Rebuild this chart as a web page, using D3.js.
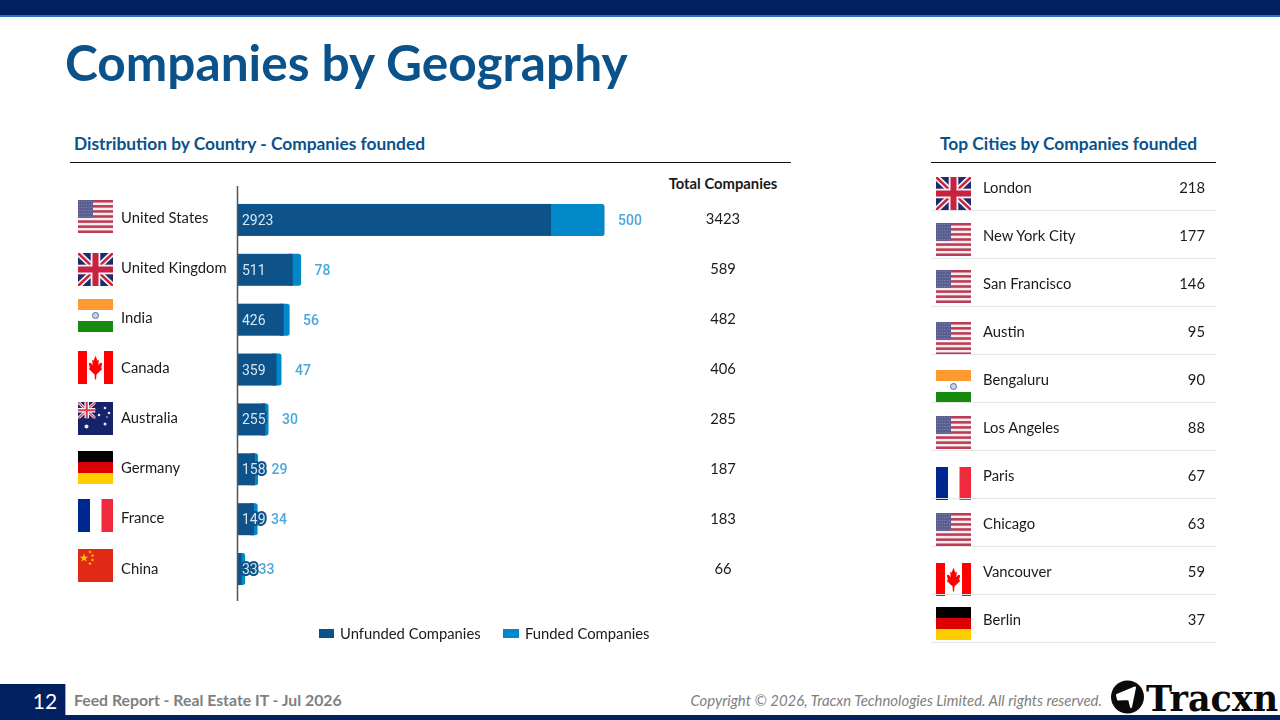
<!DOCTYPE html>
<html><head><meta charset="utf-8">
<script src="https://cdn.jsdelivr.net/npm/d3@7"></script>
<style>html,body{margin:0;padding:0;background:#fff;overflow:hidden}svg{display:block}</style>
</head><body><svg id="c" width="1280" height="720"></svg>
<script>
const countries=["United States","United Kingdom","India","Canada","Australia","Germany","France","China"];
const unfunded=[2923,511,426,359,255,158,149,33];
const funded=[500,78,56,47,30,29,34,33];
const totals=[3423,589,482,406,285,187,183,66];
const countryFlags=["us","uk","in","ca","au","de","fr","cn"];
const countryFlagY=[200,253,299,351,402,451,499,549];
const cities=["London","New York City","San Francisco","Austin","Bengaluru","Los Angeles","Paris","Chicago","Vancouver","Berlin"];
const cityCounts=[218,177,146,95,90,88,67,63,59,37];
const cityFlags=["uk","us","us","us","in","us","fr","us","ca","de"];
const cityFlagY=[177,223,270,322,370,416,467,513,563,607];
const seriesNames=["Unfunded Companies","Funded Companies"];

const NAVY="#002060",BLUE="#0a5289",LIGHT="#0288c9",FONT="Lato,sans-serif";
const svg=d3.select("#c");
const txt=(x,y,s,o={})=>svg.append("text").attr("x",x).attr("y",y).attr("dominant-baseline","central")
  .attr("font-family",o.f||FONT).attr("font-size",o.s||14.8).attr("font-weight",o.w||400).attr("font-style",o.i||"normal")
  .attr("fill",o.c||"#1a1a1a").attr("text-anchor",o.a||"start").text(s);
const rect=(x,y,w,h,c)=>svg.append("rect").attr("x",x).attr("y",y).attr("width",w).attr("height",h).attr("fill",c);
const line=(x1,x2,y,c)=>svg.append("line").attr("x1",x1).attr("x2",x2).attr("y1",y).attr("y2",y).attr("stroke",c).attr("stroke-width",1);

// page frame
rect(0,0,1280,15,NAVY);rect(0,15,1280,2,"#2f6fc4");
rect(0,715,1280,5,NAVY);rect(0,684,65,36,NAVY);rect(65,684,1,31,"#8fa8d0");
txt(45,700.5,"12",{c:"#fff",s:21,a:"middle"});
txt(74,699.5,"Feed Report - Real Estate IT - Jul 2026",{c:"#7f7f7f",s:15.8,w:700});
txt(1102,700,"Copyright © 2026, Tracxn Technologies Limited. All rights reserved.",{c:"#7f7f7f",s:14.9,i:"italic",a:"end"});
txt(65,62,"Companies by Geography",{c:BLUE,s:49.6,w:700});

// logo
const logo=svg.append("g");
logo.append("circle").attr("cx",1127.5).attr("cy",697).attr("r",16.5).attr("fill","#0a0a0a");
logo.append("path").attr("d","M1117 695 L1135 687.5 L1131 707 L1129 699 L1118 699.5 Z").attr("fill","#fff")
  .attr("stroke","#fff").attr("stroke-width",2).attr("stroke-linejoin","round");
txt(1146,698,"Tracxn",{f:"'DejaVu Serif',serif",s:35,w:700,c:"#0a0a0a"});

// section heads
txt(74,143.5,"Distribution by Country - Companies founded",{c:BLUE,s:17.35,w:700});
line(70,791,162.5,"#111");
txt(940,143.5,"Top Cities by Companies founded",{c:BLUE,s:17.35,w:700});
line(931,1216,162.5,"#111");
txt(723,182.5,"Total Companies",{s:14.8,w:700,a:"middle"});

const soft=svg.append("defs").append("filter").attr("id","soft").attr("x",-.05).attr("y",-.05).attr("width",1.1).attr("height",1.1);
soft.append("feGaussianBlur").attr("stdDeviation",.35);
const flagLayer=svg.append("g").attr("filter","url(#soft)");

// flags
function flag(code,x,y){
  const g=flagLayer.append("svg").attr("x",x).attr("y",y).attr("width",35).attr("height",33)
    .attr("viewBox","0 0 35 33").attr("preserveAspectRatio","none");
  const r=(a,b,w,h,c)=>g.append("rect").attr("x",a).attr("y",b).attr("width",w).attr("height",h).attr("fill",c);
  const l=(a,b,c,d,col,w)=>g.append("line").attr("x1",a).attr("y1",b).attr("x2",c).attr("y2",d).attr("stroke",col).attr("stroke-width",w);
  const uk=(W,H,sw)=>{
    r(0,0,W,H,"#1f2c6e");
    l(0,0,W,H,"#f2f2f2",sw*1.5);l(W,0,0,H,"#f2f2f2",sw*1.5);
    l(0,0,W,H,"#c8203f",sw*.6);l(W,0,0,H,"#c8203f",sw*.6);
    r(W/2-sw*1.2,0,sw*2.4,H,"#f2f2f2");r(0,H/2-sw*1.2,W,sw*2.4,"#f2f2f2");
    r(W/2-sw*.75,0,sw*1.5,H,"#c8203f");r(0,H/2-sw*.75,W,sw*1.5,"#c8203f");
  };
  const leaf=c=>g.append("path").attr("fill",c).attr("transform","translate(17.5,16) scale(.95,1.25)").attr("d",
    "M0 -9 L2 -5 L3.5 -6 L3 -1.5 L5 -3.5 L7 -3 L6 .5 L7 1.5 L1 6 L.6 10 L-.6 10 L-1 6 L-7 1.5 L-6 .5 L-7 -3 L-5 -3.5 L-3 -1.5 L-3.5 -6 L-2 -5 Z");
  if(code==="us"){
    r(0,0,35,33,"#f4eef0");
    d3.range(7).forEach(i=>r(0,i*33/6.5,35,33/13,"#bd3a52"));
    r(0,0,15,17.8,"#5a5e92");
    g.append("g").selectAll("circle").data(d3.cross(d3.range(6),d3.range(6))).join("circle")
      .attr("cx",d=>1.5+d[0]*2.4).attr("cy",d=>1.6+d[1]*3).attr("r",.45).attr("fill","#b9bbd4");
  }else if(code==="uk"){uk(35,33,4);
  }else if(code==="in"){
    r(0,0,35,11,"#ff9a33");r(0,11,35,11,"#fff");r(0,22,35,11,"#138a07");
    g.append("circle").attr("cx",17.5).attr("cy",16.5).attr("r",3).attr("fill","#c9d2e6").attr("stroke","#56689f").attr("stroke-width",1);
  }else if(code==="ca"){
    r(0,0,35,33,"#fff");r(0,0,9,33,"#f00");r(26,0,9,33,"#f00");leaf("#f00");
  }else if(code==="au"){
    r(0,0,35,33,"#14216b");
    const n=g.append("svg").attr("width",17.5).attr("height",16.5).attr("viewBox","0 0 17.5 16.5");
    const nr=(a,b,w,h,c)=>n.append("rect").attr("x",a).attr("y",b).attr("width",w).attr("height",h).attr("fill",c);
    n.append("line").attr("x2",17.5).attr("y2",16.5).attr("stroke","#f3f3f3").attr("stroke-width",3);
    n.append("line").attr("x1",17.5).attr("y2",16.5).attr("stroke","#f3f3f3").attr("stroke-width",3);
    n.append("line").attr("x2",17.5).attr("y2",16.5).attr("stroke","#d83a55").attr("stroke-width",1.2);
    n.append("line").attr("x1",17.5).attr("y2",16.5).attr("stroke","#d83a55").attr("stroke-width",1.2);
    nr(6.5,0,4.5,16.5,"#f3f3f3");nr(0,6,17.5,4.5,"#f3f3f3");nr(7.75,0,2,16.5,"#d83a55");nr(0,7.25,17.5,2,"#d83a55");
    [[8.5,24.5,2],[27,22,1.5],[27,6,1.3],[21,13,1.3],[31,11,1.3],[29,15,.8]].forEach(p=>
      g.append("circle").attr("cx",p[0]).attr("cy",p[1]).attr("r",p[2]).attr("fill","#e8e8f0"));
  }else if(code==="de"){
    r(0,0,35,11,"#000");r(0,11,35,11,"#dd0000");r(0,22,35,11,"#ffce00");
  }else if(code==="fr"){
    r(0,0,12,33,"#00268f");r(12,0,11.5,33,"#fff");r(23.5,0,11.5,33,"#ef2b3d");
  }else if(code==="cn"){
    r(0,0,35,33,"#e02a14");
    const star=d3.symbol().type(d3.symbolStar);
    g.append("path").attr("d",star.size(22)()).attr("transform","translate(6,9)").attr("fill","#ffd800");
    [[12,3],[14.5,6.5],[14.5,11],[12,14.5]].forEach(p=>
      g.append("path").attr("d",star.size(4)()).attr("transform",`translate(${p})`).attr("fill","#ffd800"));
  }
}

// bar chart
const x=d3.scaleLinear().domain([0,3423]).range([238,604.5]);
const y=d3.scaleBand().domain(countries).range([195,594]).paddingInner(0);
const nameY=d3.scalePoint().domain(countries).range([217,567.5]);
const barH=32,cy=c=>y(c)+y.bandwidth()/2;
const rows=countries.map((c,i)=>({c,u:unfunded[i],f:funded[i],t:totals[i],fl:countryFlags[i],fy:countryFlagY[i]}));

const g=svg.append("g").attr("filter","url(#soft)");
g.selectAll("path.f").data(rows).join("path").attr("fill",LIGHT).attr("d",d=>{
  const a=x(d.u)-4,b=x(d.u+d.f),t=cy(d.c)-barH/2,r=2.5;
  return `M${a} ${t}H${b-r}Q${b} ${t} ${b} ${t+r}V${t+barH-r}Q${b} ${t+barH} ${b-r} ${t+barH}H${a}Z`;
});
g.selectAll("rect.u").data(rows).join("rect").attr("x",x(0)).attr("y",d=>cy(d.c)-barH/2)
  .attr("width",d=>x(d.u)-x(0)).attr("height",barH).attr("fill",BLUE);
const axis=d3.axisLeft(y).tickSize(0).tickFormat("");
const ag=svg.append("g").attr("transform","translate(237.5,0)").call(axis);
ag.select(".domain").attr("stroke","#555").attr("stroke-width",1.5).attr("d","M0 186V601");

g.selectAll("text.u").data(rows).join("text").attr("x",242).attr("y",d=>cy(d.c)).attr("dominant-baseline","central")
  .attr("font-family","Roboto,sans-serif").attr("font-size",14).attr("fill","#d9e6f1")
  .attr("stroke",BLUE).attr("stroke-width",4).attr("paint-order","stroke").attr("stroke-linejoin","round").text(d=>d.u);
g.selectAll("text.f").data(rows).join("text").attr("x",d=>x(d.t)+13.5).attr("y",d=>cy(d.c)).attr("dominant-baseline","central")
  .attr("font-family","Roboto,sans-serif").attr("font-size",14).attr("font-weight",500).attr("fill","#4ba6dc").text(d=>d.f);

rows.forEach(d=>{
  flag(d.fl,78,d.fy);
  txt(121,nameY(d.c),d.c);
  txt(723,cy(d.c)-1.5,d.t,{a:"middle"});
});

// legend
rect(319,629,15,9,BLUE);txt(340,632.5,seriesNames[0]);
rect(503,629,16,9,LIGHT);txt(525,632.5,seriesNames[1]);

// city table
const rowY=d3.scalePoint().domain(cities).range([187,619]);
cities.forEach((c,i)=>{
  flag(cityFlags[i],936,cityFlagY[i]);
  txt(983,rowY(c),c);
  txt(1205,rowY(c),cityCounts[i],{a:"end"});
  line(931,1216,rowY(c)+23.5,"#e6e6e6");
});
</script></body></html>
